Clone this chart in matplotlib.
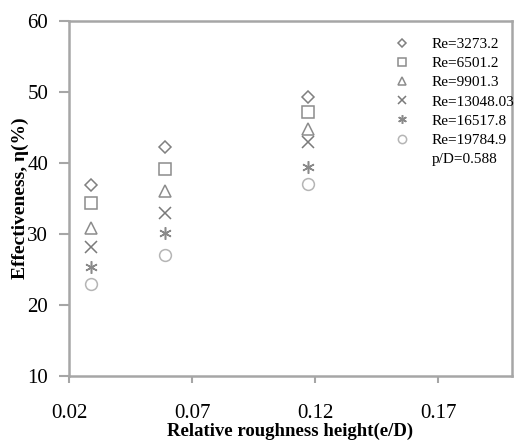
import matplotlib
matplotlib.use("Agg")
import matplotlib.pyplot as plt
from matplotlib.lines import Line2D

plt.rcParams["font.family"] = ["Liberation Serif", "DejaVu Serif"]

# relative roughness height e/D
roughness = [0.029, 0.059, 0.117]

reynolds_labels = ["Re=3273.2", "Re=6501.2", "Re=9901.3",
                   "Re=13048.03", "Re=16517.8", "Re=19784.9"]
effectiveness = [
    [36.9, 42.2, 49.3],
    [34.3, 39.2, 47.2],
    [30.8, 36.1, 44.8],
    [28.2, 33.0, 42.9],
    [25.3, 30.1, 39.4],
    [23.0, 27.1, 37.1],
]
extra_label = "p/D=0.588"

markers = ["D", "s", "^", "x", (6, 2, 0), "o"]
sizes = [6, 8, 8, 8, 9, 8.5]
colors = ["#808080", "#8c8c8c", "#8c8c8c", "#7a7a7a", "#8a8a8a", "#b5b5b5"]

fig = plt.figure(figsize=(5.14, 4.44), dpi=100)
ax = fig.add_axes([0.1342, 0.1532, 0.8619, 0.7995])

handles = []
for label, values, mk, ms, col in zip(reynolds_labels, effectiveness, markers, sizes, colors):
    line, = ax.plot(roughness, values, linestyle="none", marker=mk, markersize=ms,
                    markerfacecolor="none", markeredgecolor=col, markeredgewidth=1.1,
                    label=label)
    handles.append(line)
handles.append(Line2D([], [], linestyle="none", marker="none", label=extra_label))

ax.set_xlim(0.02, 0.2)
ax.set_ylim(10, 60)
ax.set_xticks([0.02, 0.07, 0.12, 0.17])
ax.set_xticklabels(["0.02", "0.07", "0.12", "0.17"])
ax.set_yticks([10, 20, 30, 40, 50, 60])

for side in ["left", "right", "top", "bottom"]:
    ax.spines[side].set_color("#a6a6a6")
    ax.spines[side].set_linewidth(1.8)

ax.tick_params(axis="y", direction="out", length=7, width=1.5, color="#a6a6a6",
               labelsize=15, pad=8)
ax.tick_params(axis="x", direction="out", length=5, width=1.5, color="#a6a6a6",
               labelsize=15, pad=15)

ax.set_xlabel("Relative roughness height(e/D)", fontsize=13.5, fontweight="bold",
              labelpad=0)
ax.set_ylabel("Effectiveness, η(%)", fontsize=14, fontweight="bold", labelpad=-1)

ax.legend(handles=handles, loc="upper left", bbox_to_anchor=(0.7246, 0.967),
          frameon=False, fontsize=11, borderaxespad=0, borderpad=0.3,
          handlelength=1.0, handletextpad=1.45, labelspacing=0.36,
          markerscale=0.7)

fig.savefig("out.png", dpi=100)
